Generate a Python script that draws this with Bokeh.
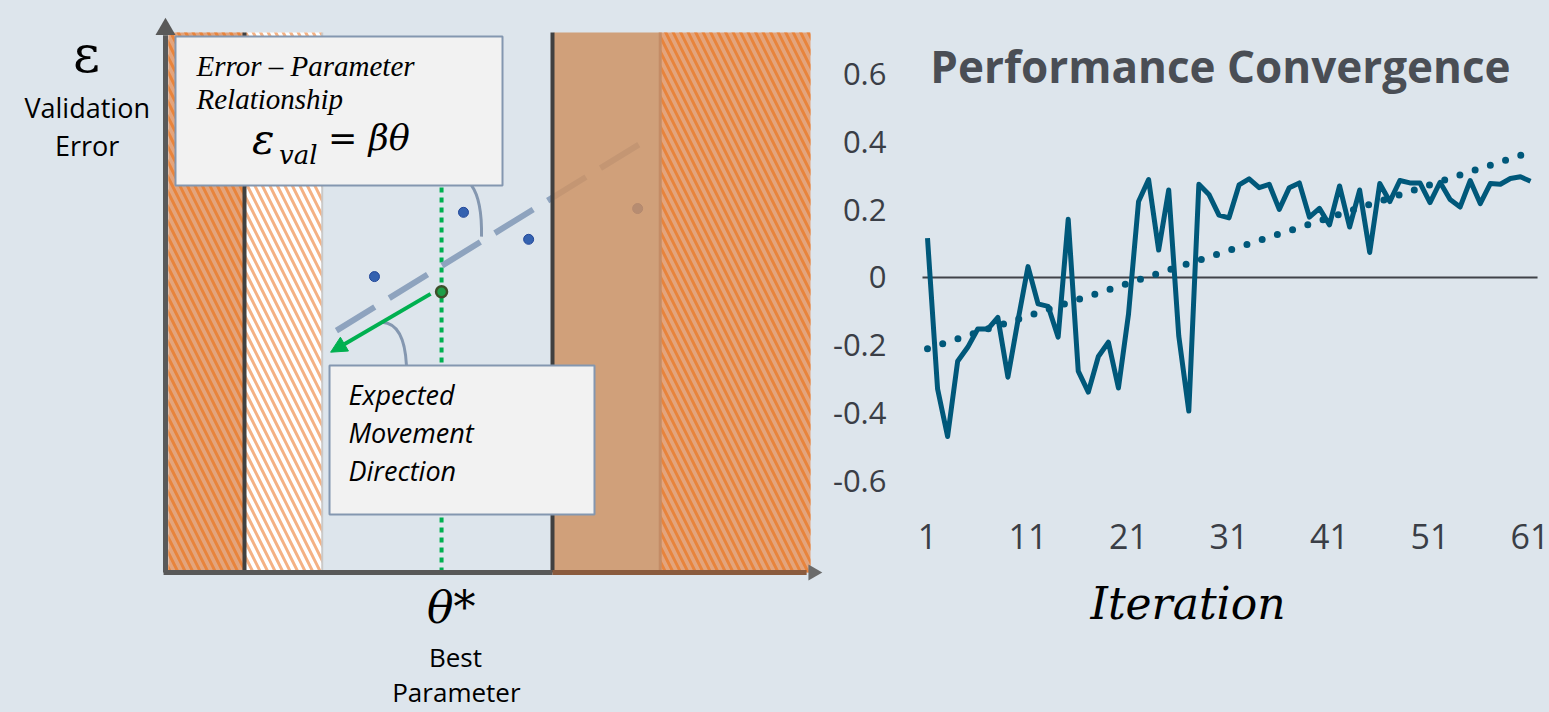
from bokeh.plotting import figure
from bokeh.layouts import row
from bokeh.models import Range1d, FixedTicker, Label, Arrow, NormalHead, CustomJSTickFormatter, LinearAxis
from bokeh.core.properties import value
from bokeh.embed import file_html
from bokeh.resources import INLINE
import math

BG = "#DDE5EC"

# ---------------- diagram data (theta / error units, 0..100) ----------------
zone_left = [0.45, 12.4, 60.2, 76.7]
zone_right = [12.1, 24.3, 76.7, 100.0]
zone_top = 100.0
zone_bottom = 0.0
divider_theta = [12.25, 60.0]
theta_best = 42.8
err_best = 52.0
obs_theta = [32.4, 46.2, 56.3, 73.2]
obs_err = [54.8, 66.7, 61.7, 67.4]
fit_theta = [26.5, 74.4]
fit_err = [44.8, 80.0]
move_start = [41.1, 51.6]
move_end = [25.6, 40.8]
x_axis_end = 100.4
y_axis_end = 101.0
box1 = dict(left=1.55, right=52.25, top=99.26, bottom=71.67)
box2 = dict(left=25.43, right=66.51, top=38.33, bottom=10.74)
conn1 = dict(x0=47.44, y0=71.67, cx=49.1, cy=68.9, x1=48.99, y1=62.2)
conn2 = dict(x0=33.6, y0=46.35, cx=37.05, cy=46.1, x1=37.36, y1=38.33)

# ---------------- convergence data ----------------
iterations = list(range(1, 62))
performance = [0.116, -0.328, -0.469, -0.247, -0.206, -0.152, -0.152, -0.118, -0.294, -0.127,
               0.032, -0.078, -0.085, -0.176, 0.172, -0.276, -0.338, -0.233, -0.191, -0.326,
               -0.108, 0.224, 0.289, 0.081, 0.258, -0.172, -0.394, 0.275, 0.245, 0.184,
               0.176, 0.273, 0.291, 0.265, 0.275, 0.201, 0.265, 0.279, 0.178, 0.204,
               0.155, 0.270, 0.149, 0.258, 0.074, 0.277, 0.224, 0.286, 0.279, 0.279,
               0.221, 0.281, 0.230, 0.208, 0.286, 0.218, 0.277, 0.275, 0.292, 0.297, 0.284]
trend_x = [1, 61]
trend_y = [-0.21, 0.37]
x_ticks = [1, 11, 21, 31, 41, 51, 61]
y_ticks = [-0.6, -0.4, -0.2, 0, 0.2, 0.4, 0.6]

# ---------------- left diagram ----------------
p1 = figure(width=826, height=712, x_range=Range1d(-25.58, 102.48), y_range=Range1d(-25.93, 105.93),
            output_backend="svg", toolbar_location=None, min_border=0,
            x_axis_type=None, y_axis_type=None)
p1.outline_line_color = None
p1.background_fill_color = BG
p1.border_fill_color = BG
p1.grid.visible = False

GRAY = "#595959"
GREEN = "#00B050"
BLUEGRAY = "#8497B0"
HATCH = dict(hatch_pattern="\\", hatch_scale=15, hatch_weight=3)

# hatched zone 1 and white hatched zone 2
p1.quad(left=[zone_left[0]], right=[zone_right[0]], top=zone_top, bottom=zone_bottom,
        fill_color="#E3A47C", line_color=None, hatch_color="#E8843C", **HATCH)
p1.quad(left=[zone_left[1]], right=[zone_right[1]], top=zone_top, bottom=zone_bottom,
        fill_color="#FFFFFF", line_color=None, hatch_color="#F4B183", **HATCH)
p1.segment(x0=[zone_right[1]], y0=[zone_bottom], x1=[zone_right[1]], y1=[zone_top],
           line_color="#C9C9C9", line_width=2)

# green dotted best line
p1.segment(x0=[theta_best], y0=[zone_bottom], x1=[theta_best], y1=[zone_top],
           line_color=GREEN, line_width=4, line_dash="5 5")

# fit line and observations
p1.line(fit_theta, fit_err, line_color="#8EA3BE", line_width=6, line_dash="45 17")
p1.scatter(obs_theta, obs_err, size=10, fill_color="#3462B0", line_color="#23489A", line_width=1)

# solid zone and hatched zone 5
p1.quad(left=[zone_left[2]], right=[zone_right[2]], top=zone_top, bottom=zone_bottom,
        fill_color="#CE9466", fill_alpha=0.85, line_color=None)
p1.quad(left=[zone_left[3]], right=[zone_right[3]], top=zone_top, bottom=zone_bottom,
        fill_color="#E3A47C", line_color=None, hatch_color="#E8843C", **HATCH)
p1.segment(x0=[zone_left[3]], y0=[zone_bottom], x1=[zone_left[3]], y1=[zone_top],
           line_color="#C48C66", line_width=3)

# dividers
p1.segment(x0=divider_theta, y0=[zone_bottom] * 2, x1=divider_theta, y1=[zone_top] * 2,
           line_color="#404040", line_width=4)

# axes
p1.segment(x0=[-0.3, 0], y0=[0, 0], x1=[divider_theta[1], 0], y1=[0, y_axis_end - 1.5],
           line_color=GRAY, line_width=5)
p1.segment(x0=[divider_theta[1]], y0=[0], x1=[x_axis_end - 1.0], y1=[0],
           line_color="#8A5B3E", line_width=5)
p1.scatter(x=[0], y=[y_axis_end - 0.4], marker="triangle", size=20, fill_color=GRAY, line_color=None)
p1.scatter(x=[x_axis_end], y=[0], marker="triangle", size=16, angle=-math.pi / 2,
           fill_color="#6B6B6B", line_color=None)

# best point and movement arrow
p1.scatter([theta_best], [err_best], size=11, fill_color="#1E9E48", line_color="#3D4F2A", line_width=2.5)
p1.add_layout(Arrow(end=NormalHead(size=16, fill_color=GREEN, line_color=GREEN),
                    x_start=move_start[0], y_start=move_start[1],
                    x_end=move_end[0], y_end=move_end[1],
                    line_color=GREEN, line_width=4))

# connectors
for c in (conn1, conn2):
    p1.quadratic(x0=[c["x0"]], y0=[c["y0"]], x1=[c["x1"]], y1=[c["y1"]], cx=[c["cx"]], cy=[c["cy"]],
                 line_color=BLUEGRAY, line_width=3)

# callout boxes
for b in (box1, box2):
    p1.quad(left=[b["left"]], right=[b["right"]], top=[b["top"]], bottom=[b["bottom"]],
            fill_color="#F2F2F2", line_color=BLUEGRAY, line_width=2)

# callout texts
p1.text(x=[4.81, 4.81], y=[93.89, 87.6], text=["Error \u2013 Parameter", "Relationship"],
        text_font=value("Liberation Serif"), text_font_style="italic", text_font_size="29px",
        text_color="#000000", text_align="left", text_baseline="middle")
p1.text(x=[13.4], y=[80.2], text=["\u03b5"], text_font=value("DejaVu Serif"), text_font_style="italic",
        text_font_size="42px", text_color="#000000", text_align="left", text_baseline="middle")
p1.text(x=[17.6], y=[77.4], text=["val"], text_font=value("DejaVu Serif"), text_font_style="italic",
        text_font_size="26px", text_color="#000000", text_align="left", text_baseline="middle")
p1.text(x=[25.2], y=[80.4], text=["= \u03b2\u03b8"], text_font=value("DejaVu Serif"), text_font_style="italic",
        text_font_size="35px", text_color="#000000", text_align="left", text_baseline="middle")
p1.text(x=[28.37, 28.37, 28.37], y=[32.96, 25.93, 18.89], text=["Expected", "Movement", "Direction"],
        text_font=value("Open Sans"), text_font_style="italic", text_font_size="27px",
        text_color="#000000", text_align="left", text_baseline="middle")

# axis labels of the diagram
p1.text(x=[-12.25], y=[96.0], text=["\u03b5"], text_font=value("DejaVu Serif"),
        text_font_size="52px", text_color="#000000", text_align="center", text_baseline="middle")
p1.text(x=[-12.14, -12.14], y=[86.1, 79.07], text=["Validation", "Error"], text_font=value("Open Sans"),
        text_font_size="27px", text_color="#000000", text_align="center", text_baseline="middle")
p1.text(x=[44.3], y=[-6.4], text=["\u03b8*"], text_font=value("DejaVu Serif"), text_font_style="italic",
        text_font_size="44px", text_color="#000000", text_align="center", text_baseline="middle")
p1.text(x=[44.96, 45.1], y=[-15.6, -22.1], text=["Best", "Parameter"], text_font=value("Open Sans"),
        text_font_size="26px", text_color="#000000", text_align="center", text_baseline="middle")

# ---------------- right chart ----------------
LINE = "#00587A"
p2 = figure(width=723, height=712, x_range=Range1d(-9.05, 62.89), y_range=Range1d(-1.2832, 0.8171),
            output_backend="svg", toolbar_location=None, min_border=0,
            x_axis_type=None, y_axis_type=None)
p2.outline_line_color = None
p2.background_fill_color = BG
p2.border_fill_color = BG
p2.grid.visible = False

baseline_x = [iterations[0] - 0.5, iterations[-1] + 0.7]
p2.line(baseline_x, [0, 0], line_color="#404349", line_width=2)
p2.line(iterations, performance, line_color=LINE, line_width=5, line_join="round")
p2.line(trend_x, trend_y, line_color=LINE, line_width=7, line_dash="0 16", line_cap="round")

xa = LinearAxis(fixed_location=-0.699, ticker=FixedTicker(ticks=x_ticks))
xa.axis_line_color = None
xa.major_tick_line_color = None
xa.minor_tick_line_color = None
xa.major_label_standoff = 4
xa.major_label_text_font = "Open Sans"
xa.major_label_text_font_size = "34px"
xa.major_label_text_color = "#3A3E46"
xa.axis_label = "Iteration"
xa.axis_label_text_font = "DejaVu Serif"
xa.axis_label_text_font_style = "italic"
xa.axis_label_text_font_size = "44px"
xa.axis_label_text_color = "#000000"
xa.axis_label_standoff = 25
p2.add_layout(xa, "below")

ya = LinearAxis(fixed_location=iterations[0] - 0.5, ticker=FixedTicker(ticks=y_ticks))
ya.formatter = CustomJSTickFormatter(code="return Math.abs(tick) < 1e-9 ? '0' : tick.toFixed(1);")
ya.axis_line_color = None
ya.major_tick_line_color = None
ya.minor_tick_line_color = None
ya.major_tick_out = 0
ya.major_label_standoff = 36
ya.major_label_text_font = "Open Sans"
ya.major_label_text_font_size = "31px"
ya.major_label_text_color = "#3A3E46"
p2.add_layout(ya, "left")

p2.add_layout(Label(x=30.15, y=0.625, text="Performance Convergence", text_align="center",
                    text_baseline="middle", text_font="Open Sans", text_font_style="bold",
                    text_font_size="44px", text_color="#4A4E55"))

layout = row(p1, p2, spacing=0)
layout.styles = {"background-color": BG}
open("out.html", "w").write(file_html(layout, INLINE))
